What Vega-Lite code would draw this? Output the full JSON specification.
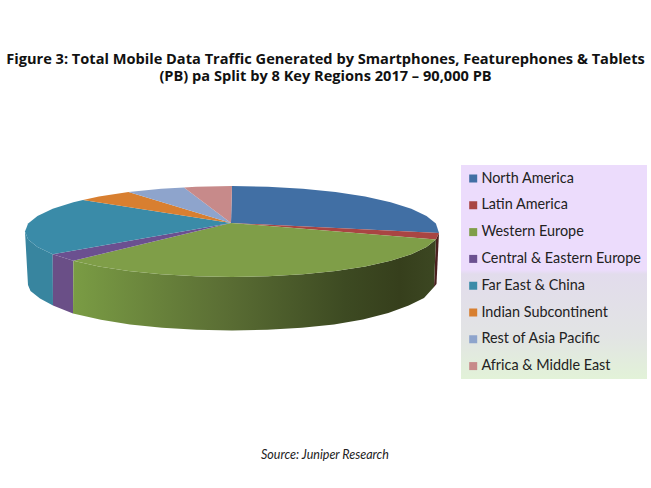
{"$schema":"https://vega.github.io/schema/vega-lite/v6.json","width":651,"height":488,"padding":0,"autosize":"none","background":"white","view":{"stroke":null},
"title":{"text":["Figure 3: Total Mobile Data Traffic Generated by Smartphones, Featurephones & Tablets","(PB) pa Split by 8 Key Regions 2017 – 90,000 PB"],"anchor":"middle","frame":"group","font":"Open Sans","fontSize":14.6,"fontWeight":"bold","color":"#111","lineHeight":17,"baseline":"top","offset":-84},
"datasets":{
"frame":[{"type":"Feature","properties":{"part":"frame"},"geometry":{"type":"Polygon","coordinates":[[[0,0],[651,0],[651,488],[0,488],[0,0]]]}}],
"legendbox":[{"type":"Feature","properties":{"part":"legend box"},"geometry":{"type":"Polygon","coordinates":[[[461,165],[647,165],[647,379],[461,379],[461,165]]]}}],
"walls":[
{"type":"Feature","properties":{"region":"Far East & China"},"geometry":{"type":"Polygon","coordinates":[[[52.7,254.25],[37.5,247.1],[28.1,239.4],[25,231.5],[28,285],[30.5,291],[40,298.5],[53,305.5],[52.7,254.25]]]}},
{"type":"Feature","properties":{"region":"Central & Eastern Europe"},"geometry":{"type":"Polygon","coordinates":[[[73.4,260.7],[52.7,254.25],[53,305.5],[73,313.5],[73.4,260.7]]]}},
{"type":"Feature","properties":{"region":"Latin America"},"geometry":{"type":"Polygon","coordinates":[[[439,233],[435.9,239.4],[434,287],[436.5,284],[439,233]]]}},
{"type":"Feature","properties":{"region":"Western Europe"},"geometry":{"type":"Polygon","coordinates":[[[435.9,239.4],[426.5,247.1],[411.3,254.25],[390.6,260.7],[365.1,266.4],[335.5,270.9],[302.8,274.3],[267.9,276.3],[232,277],[196.1,276.3],[161.2,274.3],[128.5,270.9],[98.9,266.4],[73.4,260.7],[73,313.5],[100.9,319.8],[130,324.4],[162.2,327.8],[196.6,329.8],[232,330.5],[267.4,329.8],[301.8,327.8],[334,324.4],[363,319.5],[388.3,313],[408.7,305.5],[424,298],[434,287],[435.9,239.4]]]}}
],
"slices":[
{"type":"Feature","properties":{"region":"North America","share":25.5},"geometry":{"type":"Polygon","coordinates":[[[231,223],[232,186],[267.9,186.7],[302.8,188.7],[335.5,192.1],[365.1,196.6],[390.6,202.3],[411.3,208.75],[426.5,215.9],[435.9,223.6],[439,233],[231,223]]]}},
{"type":"Feature","properties":{"region":"Latin America","share":2.2},"geometry":{"type":"Polygon","coordinates":[[[231,223],[439,233],[435.9,239.4],[231,223]]]}},
{"type":"Feature","properties":{"region":"Western Europe","share":36.1},"geometry":{"type":"Polygon","coordinates":[[[231,223],[435.9,239.4],[426.5,247.1],[411.3,254.25],[390.6,260.7],[365.1,266.4],[335.5,270.9],[302.8,274.3],[267.9,276.3],[232,277],[196.1,276.3],[161.2,274.3],[128.5,270.9],[98.9,266.4],[73.4,260.7],[231,223]]]}},
{"type":"Feature","properties":{"region":"Central & Eastern Europe","share":2.8},"geometry":{"type":"Polygon","coordinates":[[[231,223],[73.4,260.7],[52.7,254.25],[231,223]]]}},
{"type":"Feature","properties":{"region":"Far East & China","share":20.6},"geometry":{"type":"Polygon","coordinates":[[[231,223],[52.7,254.25],[37.5,247.1],[28.1,239.4],[25,231.5],[28.1,223.6],[37.5,215.9],[52.7,208.75],[73.4,202.3],[83,200],[231,223]]]}},
{"type":"Feature","properties":{"region":"Indian Subcontinent","share":4.4},"geometry":{"type":"Polygon","coordinates":[[[231,223],[83,200],[98.9,196.6],[128.5,192.1],[231,223]]]}},
{"type":"Feature","properties":{"region":"Rest of Asia Pacific","share":4.7},"geometry":{"type":"Polygon","coordinates":[[[231,223],[128.5,192.1],[161.2,188.7],[184,187.5],[231,223]]]}},
{"type":"Feature","properties":{"region":"Africa & Middle East","share":3.6},"geometry":{"type":"Polygon","coordinates":[[[231,223],[184,187.5],[196.1,186.7],[232,186],[231,223]]]}}
]},
"projection":{"type":"identity"},
"layer":[
{"data":{"name":"frame"},"mark":{"type":"geoshape","fill":"white","stroke":null}},
{"data":{"name":"legendbox"},"mark":{"type":"geoshape","stroke":null,"fill":{"gradient":"linear","x1":0,"y1":0,"x2":0,"y2":1,"stops":[{"offset":0,"color":"#ecdcfc"},{"offset":0.49,"color":"#ecdcfc"},{"offset":0.51,"color":"#e2dcec"},{"offset":0.8,"color":"#e2e4e4"},{"offset":1,"color":"#e2f2d8"}]}}},
{"data":{"name":"walls"},"transform":[{"filter":"datum.properties.region==='Far East & China'"}],"mark":{"type":"geoshape","fill":"#38859f","stroke":null}},
{"data":{"name":"walls"},"transform":[{"filter":"datum.properties.region==='Central & Eastern Europe'"}],"mark":{"type":"geoshape","fill":"#6a4f87","stroke":null}},
{"data":{"name":"walls"},"transform":[{"filter":"datum.properties.region==='Latin America'"}],"mark":{"type":"geoshape","fill":"#4a1f1e","stroke":null}},
{"data":{"name":"walls"},"transform":[{"filter":"datum.properties.region==='Western Europe'"}],"mark":{"type":"geoshape","stroke":null,"fill":{"gradient":"linear","x1":0,"y1":0,"x2":1,"y2":0,"stops":[{"offset":0,"color":"#7a9c44"},{"offset":0.4,"color":"#5c7035"},{"offset":0.75,"color":"#3d4a22"},{"offset":0.9,"color":"#363f1c"},{"offset":1,"color":"#3c4722"}]}}},
{"data":{"name":"slices"},"mark":{"type":"geoshape","stroke":null},
"encoding":{"color":{"field":"properties.region","type":"nominal","scale":{"domain":["North America","Latin America","Western Europe","Central & Eastern Europe","Far East & China","Indian Subcontinent","Rest of Asia Pacific","Africa & Middle East"],"range":["#416fa4","#a94543","#7f9e48","#6b5090","#3a8ba8","#d87f30","#8ea4cc","#c78a8a"]},"legend":{"title":null,"orient":"none","legendX":466,"legendY":170.5,"symbolType":"square","symbolSize":64,"symbolStrokeWidth":0,"labelFont":"Lato","labelFontSize":14.4,"labelColor":"#222","labelOffset":1,"rowPadding":10.8,"clipHeight":16,"labelLimit":190}}}},
{"data":{"values":[{"label":"Source: Juniper Research","lon":325,"lat":455}]},"mark":{"type":"text","font":"Lato","fontStyle":"italic","fontSize":12.5,"color":"#222","align":"center","baseline":"middle"},
"encoding":{"longitude":{"field":"lon","type":"quantitative"},"latitude":{"field":"lat","type":"quantitative"},"text":{"field":"label"}}}
]}
